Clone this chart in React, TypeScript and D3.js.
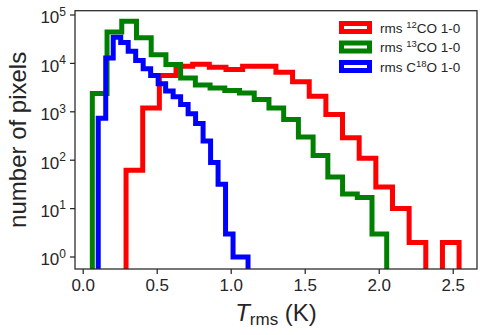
import React, { useEffect, useRef } from 'react';
import * as d3 from 'd3';

// histogram counts, 20 bins per line
const redCounts = [62, 1200, 5600, 8700, 9600, 8300, 7500, 8700, 8700, 6600, 4200, 2100, 880, 290, 110, 28, 10, 2, 0, 2];
const greenCounts = [2400, 44700, 74000, 33900, 15100, 9500, 5000, 3600, 3100, 2750, 2450, 1800, 1200, 690, 300, 125, 45, 20, 17, 3];
const blueCounts = [740, 12900, 34700, 26900, 17800, 11500, 7800, 5600, 3800, 2700, 2040, 1410, 910, 575, 250, 90, 32, 3, 1, 1];

// [min, max] of T_rms for each line
const redRange = [0.293, 2.543];
const greenRange = [0.065, 2.054];
const blueRange = [0.105, 1.117];

const xTicks = [0, 0.5, 1.0, 1.5, 2.0, 2.5];
const yExponents = [0, 1, 2, 3, 4, 5];

const series = [
    { label: '12', pre: 'rms ', post: 'CO 1-0', counts: redCounts, range: redRange, color: '#ff0000' },
    { label: '13', pre: 'rms ', post: 'CO 1-0', counts: greenCounts, range: greenRange, color: '#008000' },
    { label: '18', pre: 'rms C', post: 'O 1-0', counts: blueCounts, range: blueRange, color: '#0000ff' },
];

const FONT = '"Liberation Sans", Arial, sans-serif';
const INK = '#262626';

function App() {
    const svgRef = useRef<SVGSVGElement>(null);

    useEffect(() => {
        const svg = d3.select(svgRef.current);
        svg.selectAll('*').remove();

        const margin = { top: 10.7, right: 9, bottom: 66, left: 75 };
        const width = 486;
        const height = 335;

        const x = d3.scaleLinear().domain([-0.052, 2.664]).range([margin.left, width - margin.right]);
        const y = d3.scaleLog().domain([Math.pow(10, -0.248), Math.pow(10, 5.089)]).range([height - margin.bottom, margin.top]);

        svg.append('defs').append('clipPath').attr('id', 'plot-clip')
            .append('rect')
            .attr('x', margin.left).attr('y', margin.top)
            .attr('width', width - margin.left - margin.right)
            .attr('height', height - margin.top - margin.bottom);

        const floor = 1e-3; // empty bins drop off the bottom
        const plot = svg.append('g').attr('clip-path', 'url(#plot-clip)');

        series.forEach(s => {
            const n = s.counts.length;
            const edges = d3.range(n + 1).map(i => s.range[0] + (s.range[1] - s.range[0]) * i / n);
            const pts: [number, number][] = [[edges[0], floor]];
            s.counts.forEach((c, i) => {
                const v = c > 0 ? c : floor;
                pts.push([edges[i], v], [edges[i + 1], v]);
            });
            pts.push([edges[n], floor]);
            const line = d3.line<[number, number]>().x(d => x(d[0])).y(d => y(d[1]));
            plot.append('path')
                .attr('d', line(pts))
                .attr('fill', 'none')
                .attr('stroke', s.color)
                .attr('stroke-width', 5)
                .attr('stroke-linejoin', 'miter');
        });

        // frame
        svg.append('rect')
            .attr('x', margin.left).attr('y', margin.top)
            .attr('width', width - margin.left - margin.right)
            .attr('height', height - margin.top - margin.bottom)
            .attr('fill', 'none').attr('stroke', INK).attr('stroke-width', 1.25);

        // x axis
        const xg = svg.append('g').attr('transform', `translate(0,${height - margin.bottom})`)
            .call(d3.axisBottom(x).tickValues(xTicks).tickFormat(d3.format('.1f')).tickSize(5).tickPadding(5));
        xg.select('.domain').remove();
        xg.selectAll('line').attr('stroke', INK).attr('stroke-width', 1.25);
        xg.selectAll('text').attr('font-family', FONT).attr('font-size', 17).attr('fill', INK);

        // y axis
        const yg = svg.append('g').attr('transform', `translate(${margin.left},0)`);
        yExponents.forEach(e => {
            const yy = y(Math.pow(10, e));
            yg.append('line').attr('x1', -5).attr('x2', 0).attr('y1', yy).attr('y2', yy)
                .attr('stroke', INK).attr('stroke-width', 1.25);
            const t = yg.append('text').attr('x', -9).attr('y', yy + 8.3)
                .attr('text-anchor', 'end').attr('font-family', FONT).attr('font-size', 17).attr('fill', INK);
            t.append('tspan').text('10');
            t.append('tspan').attr('font-size', 12).attr('dy', -7.5).text(String(e));
        });

        // axis labels
        const xl = svg.append('text')
            .attr('x', (margin.left + width - margin.right) / 2).attr('y', 320.5)
            .attr('text-anchor', 'middle').attr('font-family', FONT).attr('font-size', 24).attr('fill', INK);
        xl.append('tspan').attr('font-style', 'italic').text('T');
        xl.append('tspan').attr('font-size', 17).attr('dy', 4).text('rms');
        xl.append('tspan').attr('dy', -4).text(' (K)');

        svg.append('text')
            .attr('transform', `translate(26,${(margin.top + height - margin.bottom) / 2}) rotate(-90)`)
            .attr('text-anchor', 'middle').attr('font-family', FONT).attr('font-size', 24).attr('fill', INK)
            .text('number of pixels');

        // legend
        const lg = svg.append('g');
        series.forEach((s, i) => {
            const cy = 27.5 + i * 19.5;
            lg.append('rect').attr('x', 341.5).attr('y', cy - 4).attr('width', 28).attr('height', 8)
                .attr('fill', 'white').attr('stroke', s.color).attr('stroke-width', 5);
            const t = lg.append('text').attr('x', 380).attr('y', cy + 5)
                .attr('font-family', FONT).attr('font-size', 13.5).attr('fill', INK);
            t.append('tspan').text(s.pre);
            t.append('tspan').attr('font-size', 9.5).attr('dy', -5).text(s.label);
            t.append('tspan').attr('dy', 5).text(s.post);
        });
    }, []);

    return (
        <div style={{ position: 'absolute', left: 0, top: 0 }}>
            <svg ref={svgRef} width={486} height={335}></svg>
        </div>
    );
}

export default App;
